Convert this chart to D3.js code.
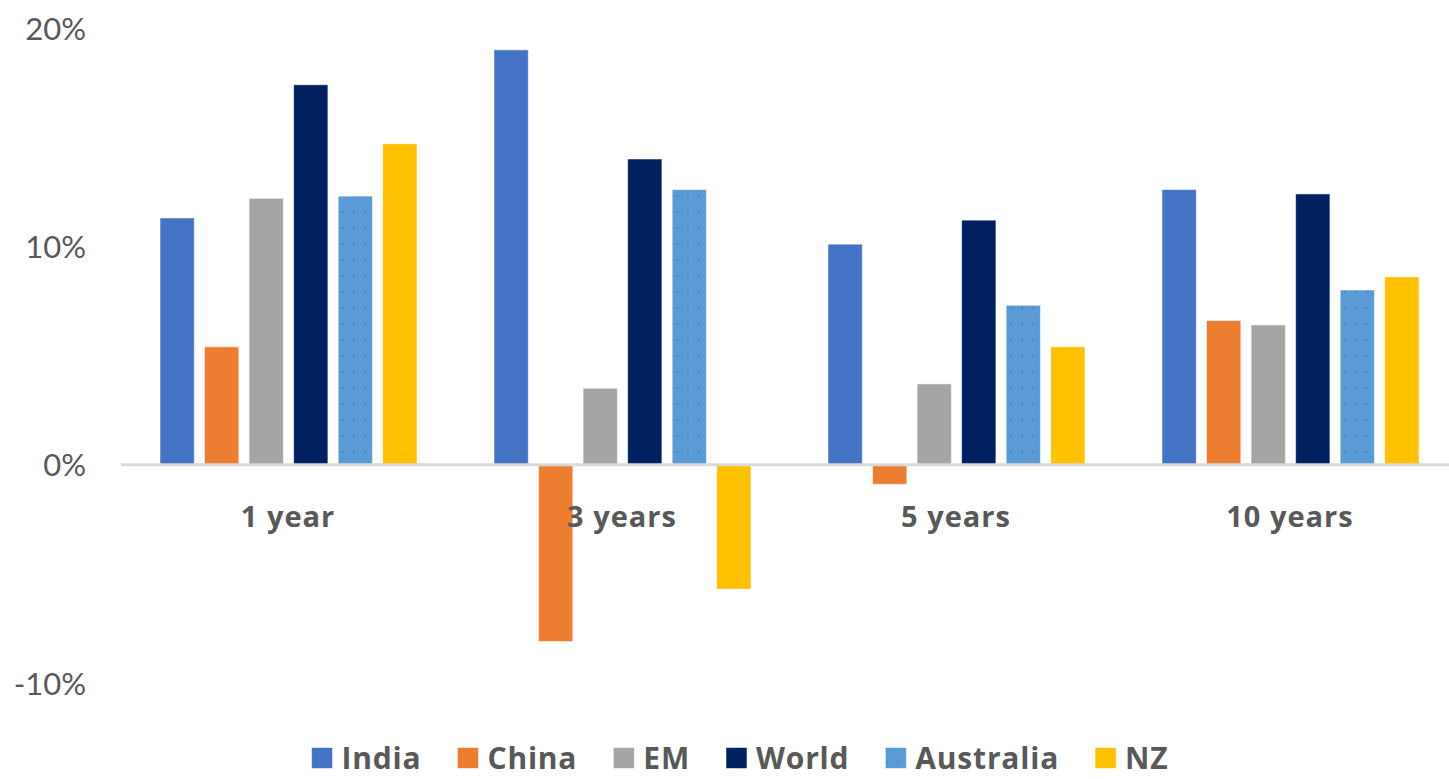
<!DOCTYPE html>
<html>
<head>
<meta charset="utf-8">
<script src="https://cdn.jsdelivr.net/npm/d3@7"></script>
<style>
  html, body { margin: 0; padding: 0; background: #fff; }
  svg { display: block; font-family: Lato, "Open Sans", sans-serif; }
</style>
</head>
<body>
<svg id="chart" width="1449" height="779"></svg>
<script>
// Annualised returns (%) by holding period
const periods = ["1 year", "3 years", "5 years", "10 years"];
const seriesNames = ["India", "China", "EM", "World", "Australia", "NZ"];
const seriesColors = ["#4472C4", "#ED7D31", "#A5A5A5", "#002060", "#5B9BD5", "#FFC000"];

const india     = [11.3, 19.0, 10.1, 12.6];
const china     = [5.4, -8.1, -0.9, 6.6];
const em        = [12.2, 3.5, 3.7, 6.4];
const world     = [17.4, 14.0, 11.2, 12.4];
const australia = [12.3, 12.6, 7.3, 8.0];
const nz        = [14.7, -5.7, 5.4, 8.6];

const yTicks = [-10, 0, 10, 20];

const seriesValues = [india, china, em, world, australia, nz];

const svg = d3.select("#chart");

// Pattern for the Australia series (fine dots)
const defs = svg.append("defs");
const pat = defs.append("pattern")
  .attr("id", "dots-aus")
  .attr("patternUnits", "userSpaceOnUse")
  .attr("width", 11).attr("height", 16);
pat.append("rect").attr("width", 11).attr("height", 16).attr("fill", seriesColors[4]);
pat.append("circle").attr("cx", 2).attr("cy", 4).attr("r", 0.9).attr("fill", "#3f6fc0").attr("opacity", 0.7);

const fills = seriesColors.map((c, i) => i === 4 ? "url(#dots-aus)" : c);

const x0 = d3.scaleBand().domain(periods).range([121, 1457]).padding(0);
const x1 = d3.scaleBand().domain(seriesNames).range([39, 296]).paddingInner(0.23);
const y = d3.scaleLinear().domain([-10, 20]).range([683, 28]);

// y-axis labels
const yAxis = d3.axisLeft(y).tickValues(yTicks).tickSize(0).tickPadding(0)
  .tickFormat(d => d + "%");
const yg = svg.append("g").attr("transform", "translate(86,0)").call(yAxis);
yg.select(".domain").remove();
yg.selectAll("text")
  .attr("fill", "#595959")
  .style("font-size", "31px")
  .style("font-family", "Lato, sans-serif")
  .attr("dy", "0.36em");

// bars
const groups = svg.append("g").selectAll("g")
  .data(periods)
  .join("g")
  .attr("transform", d => `translate(${x0(d)},0)`);

groups.selectAll("rect")
  .data((p, pi) => seriesNames.map((s, si) => ({ s, si, v: seriesValues[si][pi] })))
  .join("rect")
  .attr("x", d => x1(d.s))
  .attr("width", x1.bandwidth())
  .attr("y", d => y(Math.max(0, d.v)))
  .attr("height", d => Math.abs(y(d.v) - y(0)))
  .attr("fill", d => fills[d.si])
  .attr("stroke", "rgba(255,255,255,0.55)")
  .attr("stroke-width", 1);

// zero axis line
svg.append("line")
  .attr("x1", 121).attr("x2", 1449)
  .attr("y1", y(0)).attr("y2", y(0))
  .attr("stroke", "#D9D9D9").attr("stroke-width", 3);

// category labels
const xAxis = d3.axisBottom(x0).tickSize(0).tickPadding(0);
const xg = svg.append("g").attr("transform", `translate(0,${y(0) + 52})`).call(xAxis);
xg.select(".domain").remove();
xg.selectAll("text")
  .attr("fill", "#595959")
  .attr("dy", "0.36em")
  .attr("y", 0)
  .style("font-size", "29px")
  .style("font-weight", "700")
  .style("letter-spacing", "1px")
  .style("font-family", "'Open Sans', sans-serif");

// legend
const legend = svg.append("g").attr("transform", "translate(0,758)");
const items = legend.selectAll("g").data(seriesNames).join("g");
items.append("rect")
  .attr("width", 21).attr("height", 21).attr("y", -10.5)
  .attr("fill", (d, i) => fills[i])
  .attr("stroke", "rgba(255,255,255,0.55)").attr("stroke-width", 1);
items.append("text")
  .attr("x", 30).attr("dy", "0.36em")
  .attr("fill", "#595959")
  .style("font-size", "30px")
  .style("font-weight", "700")
  .style("letter-spacing", "0.8px")
  .style("font-family", "'Open Sans', sans-serif")
  .text(d => d);

// lay out legend entries in a row centred at x = 740
let widths = [];
items.each(function() { widths.push(this.getBBox().width); });
const gap = 36;
const total = d3.sum(widths) + gap * (widths.length - 1);
let cx = 740 - total / 2;
items.attr("transform", (d, i) => {
  const t = `translate(${cx},0)`;
  cx += widths[i] + gap;
  return t;
});
</script>
</body>
</html>
